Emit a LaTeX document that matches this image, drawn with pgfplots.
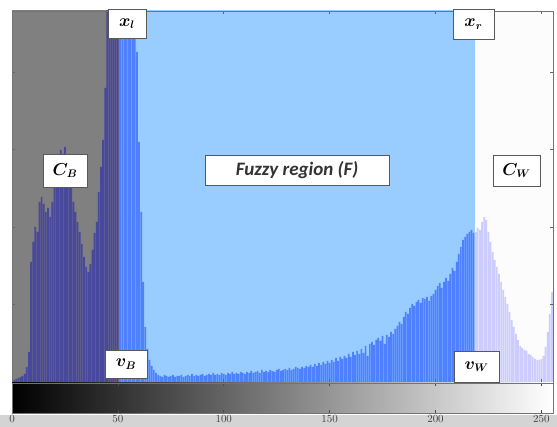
\documentclass[border=0pt]{standalone}
\usepackage{fontspec}
\setmainfont{Liberation Sans}
\newfontfamily\carlito{Carlito}
\usepackage{bm}
\usepackage{pgfplots}
\pgfplotsset{compat=1.18}
\definecolor{graybg}{HTML}{808080}
\definecolor{bluebg}{HTML}{99CCFF}
\definecolor{whitebg}{HTML}{FCFCFC}
\definecolor{darkbar}{HTML}{48489C}
\definecolor{brightbar}{HTML}{4F80FF}
\definecolor{lavbar}{HTML}{CCCCFF}
\definecolor{figbg}{HTML}{D4D4D4}
\pgfplotstableread{
x y
0 0
1 2
2 3
3 4
4 5
5 6
6 8
7 15
8 30
9 120
10 140
11 155
12 150
13 180
14 185
15 178
16 170
17 174
18 165
19 180
20 200
21 215
22 225
23 232
24 228
25 235
26 225
27 208
28 202
29 180
30 170
31 160
32 150
33 138
34 125
35 115
36 110
37 118
38 132
39 149
40 160
41 190
42 215
43 242
44 294
45 390
46 420
47 430
48 440
49 450
50 450
}\darkdata
\pgfplotstableread{
x y
51 450
52 450
53 450
54 450
55 450
56 450
57 450
58 420
59 330
60 240
61 170
62 100
63 55
64 33
65 22
66 16
67 12
68 9
69 7
70 6
71 5
72 7
73 6
74 5
75 6
76 7
77 5
78 6
79 6
80 7
81 5
82 6
83 7
84 6
85 8
86 6
87 7
88 6
89 7
90 8
91 6
92 7
93 8
94 7
95 9
96 7
97 8
98 7
99 9
100 8
101 7
102 9
103 8
104 10
105 8
106 9
107 8
108 10
109 9
110 8
111 10
112 9
113 11
114 9
115 10
116 11
117 9
118 12
119 10
120 11
121 10
122 12
123 11
124 10
125 12
126 13
127 11
128 12
129 13
130 12
131 14
132 12
133 13
134 15
135 14
136 13
137 15
138 14
139 16
140 15
141 17
142 15
143 18
144 16
145 19
146 17
147 20
148 18
149 21
150 19
151 22
152 20
153 24
154 21
155 25
156 23
157 26
158 24
159 28
160 25
161 30
162 27
163 31
164 28
165 33
166 29
167 36
168 26
169 38
170 40
171 37
172 42
173 44
174 41
175 46
176 38
177 47
178 45
179 50
180 48
181 53
182 56
183 60
184 58
185 65
186 70
187 68
188 74
189 78
190 76
191 80
192 82
193 79
194 84
195 83
196 85
197 81
198 86
199 88
200 92
201 96
202 99
203 94
204 100
205 104
206 101
207 108
208 114
209 111
210 120
211 128
212 135
213 142
214 145
215 148
216 150
217 152
218 149
}\brightdata
\pgfplotstableread{
x y
219 150
220 154
221 152
222 160
223 165
224 162
225 150
226 140
227 130
228 122
229 115
230 108
231 100
232 92
233 85
234 78
235 70
236 62
237 55
238 48
239 42
240 36
241 34
242 32
243 31
244 28
245 27
246 25
247 23
248 22
249 22
250 23
251 26
252 35
253 50
254 68
255 90
}\lavdata
\tikzset{anno/.style={draw=black!65, fill=white, line width=0.6pt, inner sep=0pt}}
\newcommand{\annofont}{\fontsize{16}{19}\selectfont}
\begin{document}
\begin{tikzpicture}
\useasboundingbox (0,0) rectangle (557pt,427pt);
\fill[figbg] (0,0) rectangle (557pt,12pt);
\begin{axis}[at={(12pt,45pt)}, anchor=south west, scale only axis,
  width=541pt, height=371pt, xmin=0, xmax=255.5, ymin=0, ymax=371,
  xtick={0,50,...,250}, ytick={77.5,155,232.5,310},
  xticklabels={}, yticklabels={}, tick align=inside, major tick length=3pt,
  axis on top, axis line style={draw=black!55, line width=0.8pt},
  tick style={black!60, line width=0.6pt}]
\addplot[draw=none, fill=graybg] coordinates {(0,380) (50.5,380)} \closedcycle;
\addplot[draw=none, fill=bluebg] coordinates {(50.5,380) (218.5,380)} \closedcycle;
\addplot[draw=none, fill=whitebg] coordinates {(218.5,380) (255.5,380)} \closedcycle;
\addplot[ybar, bar width=0.8, draw=none, fill=darkbar] table[x=x,y=y] {\darkdata};
\addplot[ybar, bar width=0.8, draw=none, fill=brightbar] table[x=x,y=y] {\brightdata};
\addplot[ybar, bar width=0.8, draw=none, fill=lavbar] table[x=x,y=y] {\lavdata};
\end{axis}
\begin{axis}[at={(12pt,14pt)}, anchor=south west, scale only axis,
  width=541pt, height=30pt, xmin=0, xmax=255.5, ymin=0, ymax=1,
  ytick=\empty, xtick={0,50,...,250}, xtick pos=both, tick align=inside,
  major tick length=3pt, axis on top,
  xticklabel style={font=\fontsize{10.5}{12}\selectfont, inner sep=1pt, yshift=-1pt, text=black!75},
  axis line style={draw=black!55, line width=0.8pt},
  tick style={black!70, line width=0.6pt}]
\addplot[draw=none, fill=none] coordinates {(0,0) (255.5,1)};
\shade[left color=black, right color=white] (axis cs:0,0) rectangle (axis cs:255.5,1);
\end{axis}
\node[anno, minimum width=38pt, minimum height=29pt] at (127pt,403.5pt) {\annofont$\bm{x}_{\bm{l}}$};
\node[anno, minimum width=41pt, minimum height=30pt] at (473.5pt,403pt) {\annofont$\bm{x}_{\bm{r}}$};
\node[anno, minimum width=44pt, minimum height=33pt] at (65pt,256.5pt) {\annofont$\bm{C}_{\bm{B}}$};
\node[anno, minimum width=184pt, minimum height=30pt, text=black!80] at (297pt,257pt) {\carlito\bfseries\itshape\fontsize{19}{22}\selectfont Fuzzy region (F)};
\node[anno, minimum width=47pt, minimum height=31pt] at (516.5pt,256.5pt) {\annofont$\bm{C}_{\bm{W}}$};
\node[anno, minimum width=42pt, minimum height=28pt] at (126pt,63pt) {\annofont$\bm{v}_{\bm{B}}$};
\node[anno, minimum width=45pt, minimum height=31pt] at (476.5pt,60.5pt) {\annofont$\bm{v}_{\bm{W}}$};
\end{tikzpicture}
\end{document}
